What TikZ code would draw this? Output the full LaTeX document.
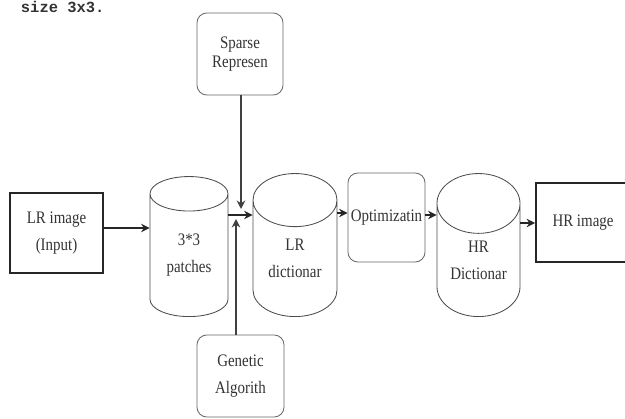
\documentclass[tikz,border=0pt]{standalone}
\usepackage{fontspec}
\setmainfont{Liberation Serif}[FakeStretch=0.85]
\setmonofont{Liberation Mono}
\usetikzlibrary{shapes.geometric, arrows.meta, positioning}

\begin{document}
\begin{tikzpicture}[
        x=0.025cm, y=-0.025cm,
        every node/.style={text=black!80, font=\fontsize{12.5}{19}\selectfont},
        box/.style={rectangle, draw=black!85, line width=1.3pt, align=center, inner sep=0pt},
        rbox/.style={rectangle, draw=black!60, line width=0.6pt, rounded corners=7pt, align=center, inner sep=0pt},
        store/.style={cylinder, shape border rotate=90, draw=black!70, line width=0.6pt, align=center, inner sep=0pt, anchor=south},
        arrow/.style={-{Stealth[length=6pt,width=6pt]}, line width=1.3pt, black!85},
        feed/.style={-{Stealth[length=6pt,width=6pt]}, line width=0.9pt, black!75}
    ]
        \useasboundingbox (0,0) rectangle (625,419);
        \node[anchor=base west, font=\ttfamily\bfseries\fontsize{11}{13}\selectfont] (caption) at (16,13) {size 3x3.};

        \node[box, minimum width=2.325cm, minimum height=2cm] (input) at (56.5,233) {LR image\\(Input)};
        \node[store, minimum width=1.95cm, minimum height=3.5cm, aspect=0.77] (patches) at (189,317) {3*3\\patches};
        \node[store, minimum width=2.1cm, minimum height=3.575cm, aspect=1] (lrdict) at (295,317) {LR\\dictionar};
        \node[rbox, minimum width=1.925cm, minimum height=2.225cm] (optim) at (386.5,217.5) {Optimizatin};
        \node[store, minimum width=2.075cm, minimum height=3.575cm, aspect=1.06] (hrdict) at (478.5,317) {HR\\Dictionar};
        \node[box, minimum width=2.35cm, minimum height=1.975cm] (output) at (583,222.5) {HR image};

        \node[rbox, minimum width=2.15cm, minimum height=2.05cm, font=\fontsize{12.5}{14}\selectfont] (sparse) at (240,54) {Sparse\\Represen};
        \node[rbox, minimum width=2.175cm, minimum height=2.05cm] (genetic) at (240.5,376) {Genetic\\Algorith};

        \coordinate (tapdown) at (241,209);
        \coordinate (tapup) at (236,219);

        \draw[arrow] (input.east |- 0,228) -- (patches.west |- 0,228);
        \draw[arrow] (patches.east |- 0,215) -- (lrdict.west |- 0,215);
        \draw[arrow] (lrdict.east |- 0,213) -- (optim.west |- 0,213);
        \draw[arrow] (optim.east |- 0,215) -- (hrdict.west |- 0,215);
        \draw[arrow] (hrdict.east |- 0,223) -- (output.west |- 0,223);
        \draw[feed] (sparse.south -| tapdown) -- (tapdown);
        \draw[feed] (genetic.north -| tapup) -- (tapup);
    \end{tikzpicture}
\end{document}
